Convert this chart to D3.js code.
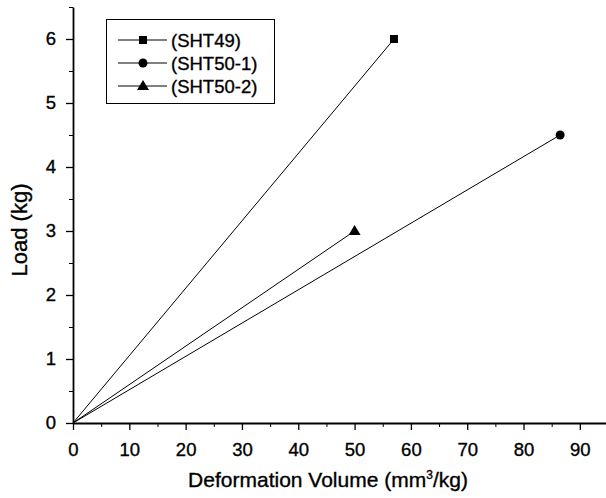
<!DOCTYPE html>
<html>
<head>
<meta charset="utf-8">
<script src="https://cdn.jsdelivr.net/npm/d3@7"></script>
<style>
  body { margin: 0; background: #fff; }
  text { font-family: "Liberation Sans", Arial, sans-serif; fill: #000; stroke: #000; stroke-width: 0.35px; }
</style>
</head>
<body>
<div id="chart"></div>
<script>
const width = 606;
const height = 498;
const margin = { top: 7, right: 0, bottom: 75, left: 73 };

// series data, each line starts at the origin
const seriesNames = ["(SHT49)", "(SHT50-1)", "(SHT50-2)"];
const seriesShapes = ["square", "circle", "triangle"];
const deformation = [[0, 57], [0, 86.5], [0, 50]];
const load = [[0, 6], [0, 4.5], [0, 3]];

const xTicks = [0, 10, 20, 30, 40, 50, 60, 70, 80, 90];
const yTicks = [0, 1, 2, 3, 4, 5, 6];

const svg = d3.select("#chart")
    .append("svg")
    .attr("width", width)
    .attr("height", height);

const x = d3.scaleLinear().domain([0, 95]).range([margin.left, 608]);
const y = d3.scaleLinear().domain([0, 6.5]).range([423, margin.top]);

// minor ticks first (short, no labels)
svg.append("g")
    .attr("transform", "translate(0,423)")
    .call(d3.axisBottom(x).tickValues(d3.range(5, 95, 10)).tickSize(4).tickFormat(""))
    .call(g => g.select(".domain").remove());
svg.append("g")
    .attr("transform", `translate(${margin.left},0)`)
    .call(d3.axisLeft(y).tickValues(d3.range(0.5, 6.6, 1)).tickSize(4).tickFormat(""))
    .call(g => g.select(".domain").remove());

// major axes
const xAxis = svg.append("g")
    .attr("transform", "translate(0,423)")
    .call(d3.axisBottom(x).tickValues(xTicks).tickFormat(d3.format("d"))
        .tickSize(7).tickPadding(13).tickSizeOuter(0));
const yAxis = svg.append("g")
    .attr("transform", `translate(${margin.left},0)`)
    .call(d3.axisLeft(y).tickValues(yTicks).tickFormat(d3.format("d"))
        .tickSize(7).tickPadding(10).tickSizeOuter(0));

[xAxis, yAxis].forEach(g => {
    g.attr("font-size", null).attr("font-family", null);
    g.selectAll("text").style("font-size", "18.5px");
    g.selectAll("line").attr("stroke-width", 1.3);
    g.select(".domain").attr("stroke-width", 1.8);
});

// axis titles
svg.append("text")
    .attr("x", 328)
    .attr("y", 487)
    .attr("text-anchor", "middle")
    .style("font-size", "21px")
    .html('Deformation Volume (mm<tspan dy="-8" font-size="12px">3</tspan><tspan dy="8">/kg)</tspan>');

svg.append("text")
    .attr("transform", "translate(27,230) rotate(-90)")
    .attr("text-anchor", "middle")
    .style("font-size", "22px")
    .text("Load (kg)");

function drawMarker(g, shape, cx, cy) {
    if (shape === "square") {
        g.append("rect").attr("x", cx - 4).attr("y", cy - 4).attr("width", 8).attr("height", 8);
    } else if (shape === "circle") {
        g.append("circle").attr("cx", cx).attr("cy", cy).attr("r", 4.5);
    } else {
        g.append("path").attr("d", `M${cx},${cy - 6}L${cx + 6},${cy + 4}L${cx - 6},${cy + 4}Z`);
    }
}

const line = d3.line().x(d => x(d[0])).y(d => y(d[1]));

seriesNames.forEach((name, i) => {
    const pts = deformation[i].map((v, j) => [v, load[i][j]]);
    svg.append("path")
        .datum(pts)
        .attr("d", line)
        .attr("fill", "none")
        .attr("stroke", "#000")
        .attr("stroke-width", 1);
    const g = svg.append("g").attr("fill", "#000");
    const last = pts[pts.length - 1];
    drawMarker(g, seriesShapes[i], x(last[0]), y(last[1]));
});

// legend
const legend = svg.append("g");
legend.append("rect")
    .attr("x", 106.5).attr("y", 19.5)
    .attr("width", 168).attr("height", 84)
    .attr("fill", "#fff")
    .attr("stroke", "#000")
    .attr("stroke-width", 1);
seriesNames.forEach((name, i) => {
    const ly = 40 + i * 23;
    legend.append("line")
        .attr("x1", 118).attr("x2", 167)
        .attr("y1", ly).attr("y2", ly)
        .attr("stroke", "#000");
    const g = legend.append("g").attr("fill", "#000");
    drawMarker(g, seriesShapes[i], 143, ly);
    legend.append("text")
        .attr("x", 171)
        .attr("y", ly + 6.5)
        .style("font-size", "18.5px")
        .text(name);
});
</script>
</body>
</html>
